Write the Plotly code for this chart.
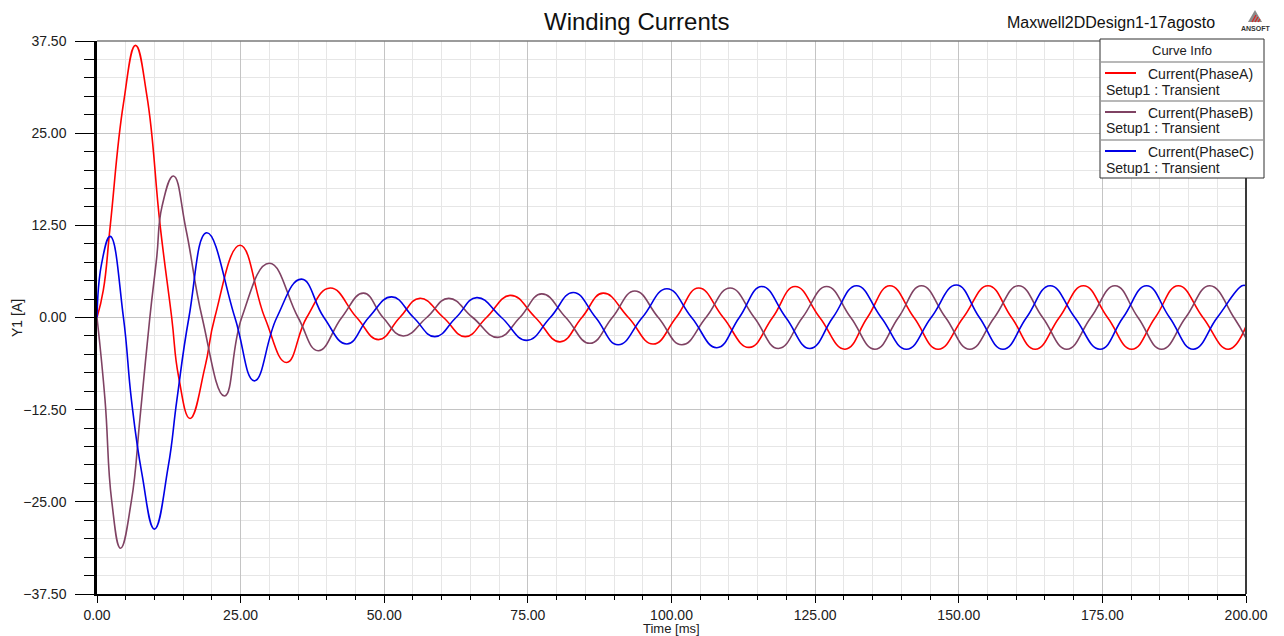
import plotly.graph_objects as go

# ---------------- data ----------------
t_a = [0, 1.1, 2.3, 4.6, 6.7, 8.7, 11.0, 13.0, 14.2, 16.2, 18.8, 20.5, 24.9, 29.2, 33.0, 36.5,
       40.6, 45.2, 49.0, 52.7, 56.2, 60.3, 64.1, 67.8, 72.0, 76.3, 80.6, 84.4, 88.1, 92.5,
       96.8, 100.8, 104.7, 109.0, 113.5, 117.6, 121.5, 125.8, 130.2, 134.1, 138.0, 142.2,
       146.4, 150.8, 155.1, 159.2, 163.3, 167.5, 171.7, 175.9, 180.1, 184.2, 188.2, 192.5,
       196.9, 200.0]
i_a = [0, 3.7, 12.4, 29.0, 36.9, 30.0, 12.4, 0, -8.0, -13.7, -6.7, 0, 9.8, 0, -6.1, 0,
       4.0, 0, -3.0, 0, 2.6, 0, -2.6, 0, 3.0, 0, -3.3, 0, 3.3, 0,
       -3.6, 0, 4.0, 0, -4.05, 0, 4.2, 0, -4.3, 0, 4.3, 0,
       -4.3, 0, 4.3, 0, -4.3, 0, 4.3, 0, -4.3, 0, 4.3, 0,
       -4.3, -1.2]

t_b = [0, 1.4, 2.55, 4.1, 6.0, 7.5, 9.2, 10.4, 11.3, 13.3, 15.5, 18.3, 22.2, 25.2, 30.0, 35.0,
       38.5, 42.6, 46.4, 49.8, 53.3, 57.4, 61.2, 65.4, 69.8, 73.6, 77.4, 81.6, 85.8, 89.7,
       93.6, 97.7, 101.8, 106.0, 110.2, 114.4, 118.6, 122.8, 127.0, 131.2, 135.4, 139.5,
       143.5, 147.7, 151.9, 156.2, 160.4, 164.6, 168.8, 173.0, 177.2, 181.2, 185.3, 189.5,
       193.7, 197.9, 200.0]
i_b = [0, -11.2, -24.8, -31.3, -24.8, -13.5, 0, 8.2, 15.0, 19.2, 11.9, 0, -10.65, 0, 7.35, 0,
       -4.5, 0, 3.3, 0, -2.5, 0, 2.6, 0, -2.7, 0, 3.2, 0, -3.5, 0,
       3.6, 0, -3.7, 0, 4.0, 0, -4.2, 0, 4.2, 0, -4.3, 0,
       4.3, 0, -4.3, 0, 4.3, 0, -4.3, 0, 4.3, 0, -4.3, 0,
       4.3, 0, -2.8]

t_c = [0, 0.8, 2.3, 4.6, 6.0, 7.8, 10.0, 12.4, 13.9, 16.0, 19.1, 24.0, 27.4, 31.3, 35.6, 39.5,
       43.5, 47.3, 51.3, 55.1, 58.8, 62.5, 66.1, 70.4, 74.8, 78.9, 82.9, 86.8, 90.7, 94.9,
       99.2, 103.5, 107.9, 111.8, 115.7, 119.9, 124.1, 128.1, 132.2, 136.5, 140.9, 145.2,
       149.6, 153.6, 157.7, 161.8, 165.9, 170.2, 174.6, 178.6, 182.7, 186.7, 190.8, 195.0,
       199.3, 200.0]
i_c = [0, 7.3, 11.0, 0, -11.2, -21.1, -28.7, -20.2, -11.2, 0, 11.5, 0, -8.6, 0, 5.2, 0,
       -3.6, 0, 2.8, 0, -2.6, 0, 2.7, 0, -3.1, 0, 3.4, 0, -3.7, 0,
       3.9, 0, -4.1, 0, 4.2, 0, -4.2, 0, 4.3, 0, -4.3, 0,
       4.4, 0, -4.3, 0, 4.3, 0, -4.3, 0, 4.3, 0, -4.3, 0,
       4.3, 4.3]

series_names = ["Current(PhaseA)", "Current(PhaseB)", "Current(PhaseC)"]
series_colors = ["#ff0000", "#7f4263", "#0000e6"]
setup_label = "Setup1 : Transient"

x_ticks = [0, 25, 50, 75, 100, 125, 150, 175, 200]
y_ticks = [-37.5, -25, -12.5, 0, 12.5, 25, 37.5]

# ---------------- layout geometry helpers ----------------
W, H = 1284, 636
L, R, T, B = 97, 1246, 41, 594
FONT = "Liberation Sans, Arial, sans-serif"


def px(x):
    return (x - L) / (R - L)


def py(y):
    return (B - y) / (B - T)


fig = go.Figure()
for tt, vv, name, col in zip([t_a, t_b, t_c], [i_a, i_b, i_c], series_names, series_colors):
    fig.add_trace(go.Scatter(x=tt, y=vv, mode="lines", name=name,
                             line=dict(color=col, width=1.6, shape="spline", smoothing=1.3),
                             showlegend=False))

shapes = []
annotations = []

# plot frame (top / right)
shapes.append(dict(type="line", xref="paper", yref="paper", x0=0, x1=1, y0=1, y1=1,
                   line=dict(color="#7a7a7a", width=1.5), layer="above"))
shapes.append(dict(type="line", xref="paper", yref="paper", x0=1, x1=1, y0=0, y1=1,
                   line=dict(color="#3a3a3a", width=2), layer="above"))

# legend box ("Curve Info")
bx0, bx1, by0, by1 = 1100, 1264, 39, 178
shapes.append(dict(type="rect", xref="paper", yref="paper",
                   x0=px(bx0), x1=px(bx1), y0=py(by1), y1=py(by0),
                   fillcolor="white", line=dict(color="#303030", width=1), layer="above"))
for sy in [62, 101, 140]:
    shapes.append(dict(type="line", xref="paper", yref="paper",
                       x0=px(bx0 + 1), x1=px(bx1 - 1), y0=py(sy), y1=py(sy),
                       line=dict(color="#b8b8b8", width=2), layer="above"))
annotations.append(dict(xref="paper", yref="paper", x=px((bx0 + bx1) / 2), y=py(51),
                        text="Curve Info", showarrow=False, xanchor="center", yanchor="middle",
                        font=dict(family=FONT, size=13, color="#202020")))
row_y = [74, 113, 152]
for ry, name, col in zip(row_y, series_names, series_colors):
    shapes.append(dict(type="line", xref="paper", yref="paper",
                       x0=px(1105), x1=px(1136), y0=py(ry - 1), y1=py(ry - 1),
                       line=dict(color=col, width=2), layer="above"))
    annotations.append(dict(xref="paper", yref="paper", x=px(1146), y=py(ry),
                            text=name, showarrow=False, xanchor="left", yanchor="middle",
                            font=dict(family=FONT, size=14, color="#202020")))
    annotations.append(dict(xref="paper", yref="paper", x=px(1104), y=py(ry + 15.5),
                            text=setup_label, showarrow=False, xanchor="left", yanchor="middle",
                            font=dict(family=FONT, size=14, color="#202020")))

# titles
annotations.append(dict(xref="paper", yref="paper", x=px(636), y=py(21),
                        text="Winding Currents", showarrow=False, xanchor="center", yanchor="middle",
                        font=dict(family=FONT, size=24, color="#111111")))
annotations.append(dict(xref="paper", yref="paper", x=px(1111), y=py(22),
                        text="Maxwell2DDesign1-17agosto", showarrow=False, xanchor="center",
                        yanchor="middle", font=dict(family=FONT, size=16, color="#111111")))
# axis titles
annotations.append(dict(xref="paper", yref="paper", x=px(671), y=py(629),
                        text="Time [ms]", showarrow=False, xanchor="center", yanchor="middle",
                        font=dict(family=FONT, size=13, color="#202020")))
annotations.append(dict(xref="paper", yref="paper", x=px(17), y=py(318),
                        text="Y1 [A]", showarrow=False, xanchor="center", yanchor="middle",
                        textangle=-90, font=dict(family=FONT, size=14, color="#202020")))

# ANSOFT logo
shapes.append(dict(type="path", xref="paper", yref="paper",
                   path=f"M {px(1248)} {py(22)} L {px(1255)} {py(10)} L {px(1262)} {py(22)} Z",
                   fillcolor="#8a8a8a", line=dict(width=0), layer="above"))
for (xa, ya, xb, yb) in [(1252, 22, 1256, 15), (1255, 22, 1258, 17), (1258, 22, 1260, 19)]:
    shapes.append(dict(type="line", xref="paper", yref="paper",
                       x0=px(xa), y0=py(ya), x1=px(xb), y1=py(yb),
                       line=dict(color="#e02020", width=1.2), layer="above"))
annotations.append(dict(xref="paper", yref="paper", x=px(1256), y=py(28.5),
                        text="<b>ANSOFT</b>", showarrow=False, xanchor="center", yanchor="middle",
                        font=dict(family=FONT, size=7, color="#333333")))

fig.update_layout(
    width=W, height=H,
    margin=dict(l=L, r=W - R, t=T, b=H - B, pad=0),
    paper_bgcolor="white", plot_bgcolor="white",
    font=dict(family=FONT, size=14, color="#202020"),
    shapes=shapes, annotations=annotations,
    showlegend=False,
    xaxis=dict(range=[0, 200], tickvals=x_ticks, tickformat=".2f",
               ticks="outside", ticklen=7, tickwidth=1, tickcolor="black",
               showline=True, linecolor="black", linewidth=1.5,
               showgrid=True, gridcolor="#c4c4c4", gridwidth=1, zeroline=False,
               tickfont=dict(family=FONT, size=14, color="#202020"),
               minor=dict(dtick=5, tick0=0, ticks="outside", ticklen=4, tickcolor="black",
                          showgrid=True, gridcolor="#e6e6e6", gridwidth=1),
               fixedrange=True),
    yaxis=dict(range=[-37.5, 37.5], tickvals=y_ticks, tickformat=".2f",
               ticks="outside", ticklen=19, tickwidth=1, tickcolor="black",
               ticklabelstandoff=6,
               showline=True, linecolor="black", linewidth=2.5,
               showgrid=True, gridcolor="#c4c4c4", gridwidth=1, zeroline=False,
               tickfont=dict(family=FONT, size=14, color="#202020"),
               minor=dict(dtick=2.5, tick0=0, ticks="outside", ticklen=10, tickcolor="black",
                          showgrid=True, gridcolor="#e6e6e6", gridwidth=1),
               fixedrange=True),
)

fig.write_html("out.html", config={"displayModeBar": False},
               post_script="document.body.style.margin='0';document.body.style.overflow='hidden';")
